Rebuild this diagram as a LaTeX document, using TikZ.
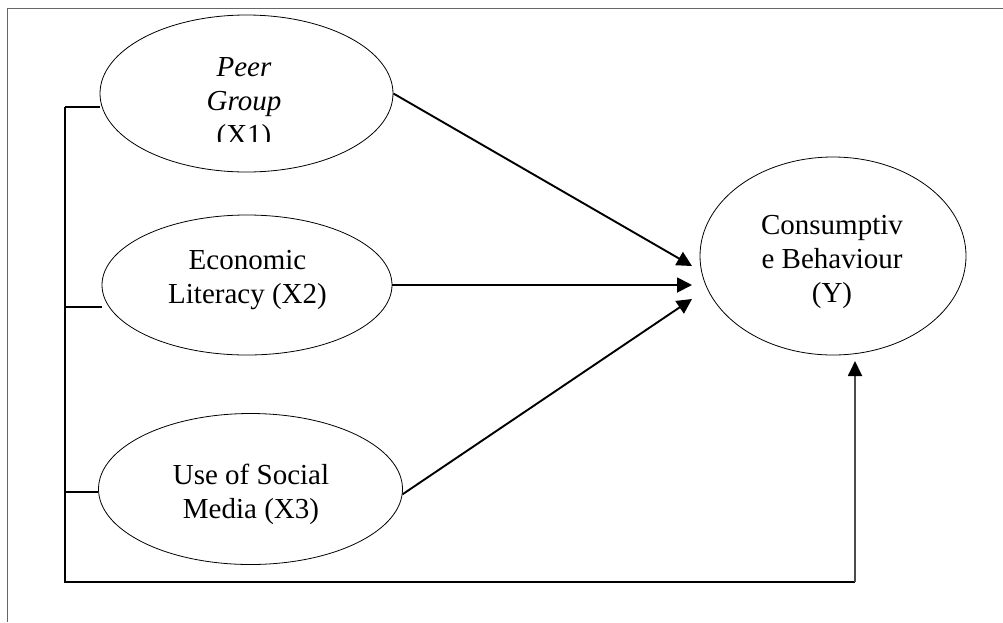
\documentclass[tikz,border=0pt]{standalone}
\usepackage{fontspec}
\setmainfont{Liberation Serif}
\usetikzlibrary{shapes.geometric,arrows.meta}
\begin{document}
\begin{tikzpicture}[x=1pt,y=-1pt,
  ell/.style={ellipse,draw,line width=0.8pt,inner sep=0pt},
  lbl/.style={align=center,font=\fontsize{29}{34}\selectfont,inner sep=0pt},
  conn/.style={line width=1.9pt},
  arr/.style={conn,-{Triangle[length=15pt,width=15pt]}},
  frameline/.style={line width=1pt,black!60}]
\useasboundingbox (0,0) rectangle (1003,622);
\draw[frameline] (7,622) -- (7,8) -- (1003,8);

% ellipses
\node[ell,minimum width=293pt,minimum height=157pt] (e1) at (246.5,93.5) {};
\node[ell,minimum width=290pt,minimum height=140pt] (e2) at (247,285) {};
\node[ell,minimum width=304pt,minimum height=151pt] (e3) at (250.5,489) {};
\node[ell,minimum width=266pt,minimum height=198pt] (ey) at (833,256) {};

% labels
\begin{scope}
  \clip (0,0) rectangle (1003,141.5);
  \node[lbl] (l1) at (244,104) {\textit{Peer}\\\textit{Group}\\(X1)};
\end{scope}
\node[lbl] (l2) at (247.5,280) {Economic\\Literacy (X2)};
\node[lbl] (l3) at (251,494) {Use of Social\\Media (X3)};
\node[lbl] (ly) at (832,262) {Consumptiv\\e Behaviour\\(Y)};

% coordinates
\coordinate (t1) at (692,266);
\coordinate (t2) at (692,285);
\coordinate (t3) at (692,299);
\coordinate (ty) at (855,361);
\coordinate (ctop) at (65,107);
\coordinate (c2) at (65,307);
\coordinate (c3) at (65,492);
\coordinate (cbl) at (65,582);
\coordinate (cbr) at (855,582);

% arrows to Y
\draw[arr] (e1.east) -- (t1);
\draw[arr] (e2.east) -- (t2);
\draw[arr] (e3.358) -- (t3);

% left trunk
\draw[conn] (ctop) -- (cbl) -- (cbr);
\draw[conn,black!70,-{Triangle[length=15pt,width=14pt,color=black]}] (cbr) -- (ty);
\draw[conn] (ctop) -- (e1.west |- ctop);
\draw[conn] (c2) -- (e2.west |- c2);
\draw[conn] (c3) -- (e3.west |- c3);
\end{tikzpicture}
\end{document}
